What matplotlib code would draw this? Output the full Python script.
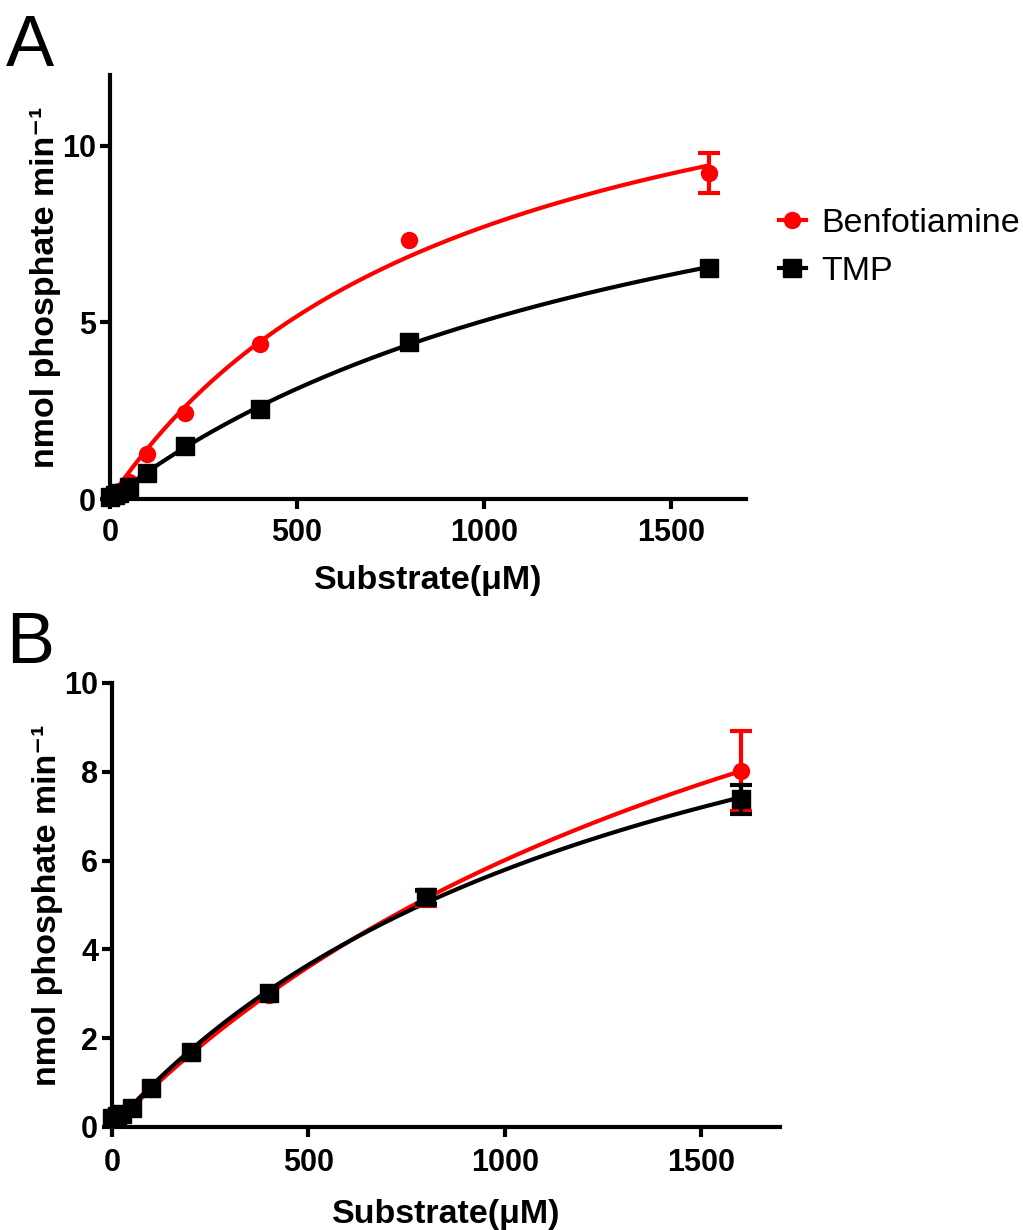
import numpy as np
import matplotlib
matplotlib.use("Agg")
import matplotlib.pyplot as plt

plt.rcParams['font.family'] = ['Liberation Sans', 'DejaVu Sans']

substrate = [0, 12.5, 25, 50, 100, 200, 400, 800, 1600]

# Panel A
a_benf = [0.05, 0.12, 0.22, 0.48, 1.27, 2.44, 4.39, 7.34, 9.22]
a_benf_err = [0, 0, 0, 0, 0, 0, 0, 0, 0.57]
a_tmp = [0.05, 0.10, 0.17, 0.34, 0.74, 1.50, 2.55, 4.45, 6.54]
a_tmp_err = [0, 0, 0, 0, 0, 0, 0, 0, 0]

# Panel B
b_benf = [0.2, 0.25, 0.3, 0.43, 0.86, 1.66, 2.98, 5.15, 8.02]
b_benf_err = [0, 0, 0, 0, 0, 0, 0, 0.17, 0.9]
b_tmp = [0.2, 0.25, 0.3, 0.43, 0.88, 1.69, 3.02, 5.18, 7.38]
b_tmp_err = [0, 0, 0, 0, 0, 0, 0, 0.16, 0.32]

labels = ["Benfotiamine", "TMP"]
xticks = [0, 500, 1000, 1500]
a_yticks = [0, 5, 10]
b_yticks = [0, 2, 4, 6, 8, 10]

RED = "#ff0000"
BLK = "#000000"


def mm_fit(s, v):
    s = np.asarray(s, float)
    v = np.asarray(v, float)
    best = None
    for k in np.linspace(10, 5000, 2000):
        f = s / (k + s)
        vmax = np.dot(f, v) / np.dot(f, f)
        r = np.sum((v - vmax * f) ** 2)
        if best is None or r < best[0]:
            best = (r, vmax, k)
    return best[1], best[2]


fig = plt.figure(figsize=(10.23, 12.30), dpi=100)
W, H = 1023, 1230


def make_ax(l, r, t, b):
    return fig.add_axes([l / W, 1 - b / H, (r - l) / W, (b - t) / H])


axA = make_ax(110, 746, 75, 499)
axB = make_ax(112, 780, 683, 1127)


def style(ax, ylim, yticks, xpad, xlabpad):
    ax.set_xlim(0, 1700)
    ax.set_ylim(*ylim)
    ax.set_xticks(xticks)
    ax.set_yticks(yticks)
    for sp in ["top", "right"]:
        ax.spines[sp].set_visible(False)
    for sp in ["left", "bottom"]:
        ax.spines[sp].set_linewidth(3)
    ax.tick_params(width=3, length=7, labelsize=22)
    ax.tick_params(axis="x", pad=xpad)
    ax.tick_params(axis="y", pad=3)
    for lab in ax.get_xticklabels() + ax.get_yticklabels():
        lab.set_fontweight("bold")
    ax.set_xlabel("Substrate(\u03bcM)", fontsize=24.5, fontweight="bold",
                  labelpad=xlabpad)
    ax.set_ylabel("nmol phosphate min\u207b\u00b9", fontsize=24.5,
                  fontweight="bold", labelpad=1)


def plot_series(ax, y, err, color, marker, ms, label):
    vmax, km = mm_fit(substrate, y)
    xs = np.linspace(0, max(substrate), 400)
    ax.plot(xs, vmax * xs / (km + xs), color=color, lw=3, clip_on=False, zorder=2)
    idx = [i for i, e in enumerate(err) if e > 0]
    if idx:
        ax.errorbar([substrate[i] for i in idx], [y[i] for i in idx],
                    yerr=[err[i] for i in idx], fmt="none", ecolor=color,
                    elinewidth=3, capsize=8, capthick=3, clip_on=False, zorder=3)
    ax.plot(substrate, y, linestyle="none", marker=marker, ms=ms, color=color,
            clip_on=False, zorder=4)
    return ax.plot([], [], color=color, lw=3, marker=marker, ms=ms, label=label)[0]


hA1 = plot_series(axA, a_benf, a_benf_err, RED, "o", 11.5, labels[0])
hA2 = plot_series(axA, a_tmp, a_tmp_err, BLK, "s", 12.5, labels[1])
style(axA, (0, 12), a_yticks, 7, 12)

plot_series(axB, b_benf, b_benf_err, RED, "o", 11.5, labels[0])
plot_series(axB, b_tmp, b_tmp_err, BLK, "s", 13, labels[1])
style(axB, (0, 10), b_yticks, 8, 15)

fig.legend(handles=[hA1, hA2], labels=labels, loc="upper left",
           bbox_to_anchor=(748 / W, 1 - 177 / H), frameon=False, fontsize=24.5,
           handlelength=0.8, handletextpad=0.45, labelspacing=0.5)

fig.text(6 / W, 1 - 66 / H, "A", fontsize=52, ha="left", va="baseline")
fig.text(6 / W, 1 - 663 / H, "B", fontsize=52, ha="left", va="baseline")

fig.savefig("out.png", dpi=100)
